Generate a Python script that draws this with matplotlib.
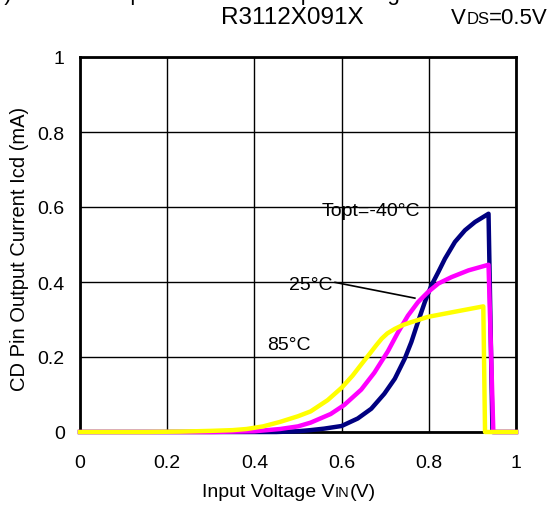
import matplotlib
matplotlib.use("Agg")
import matplotlib.pyplot as plt
from matplotlib.offsetbox import TextArea, HPacker, AnnotationBbox

plt.rcParams['font.family'] = ['Liberation Sans', 'DejaVu Sans']

# curves (VIN in V, Icd in mA)
v_m40 = [0.0, 0.45, 0.50, 0.529, 0.56, 0.60, 0.637, 0.668, 0.698, 0.722, 0.745, 0.76,
         0.775, 0.791, 0.806, 0.822, 0.837, 0.86, 0.883, 0.906, 0.937, 0.946, 1.0]
i_m40 = [0.0, 0.0, 0.002, 0.005, 0.009, 0.016, 0.036, 0.062, 0.102, 0.142, 0.196, 0.24,
         0.293, 0.347, 0.391, 0.427, 0.462, 0.507, 0.538, 0.56, 0.582, 0.0, 0.0]

v_25 = [0.0, 0.30, 0.40, 0.459, 0.50, 0.529, 0.575, 0.606, 0.645, 0.675, 0.706, 0.729,
        0.752, 0.775, 0.798, 0.822, 0.852, 0.891, 0.937, 0.948, 1.0]
i_25 = [0.0, 0.0, 0.002, 0.008, 0.015, 0.025, 0.048, 0.072, 0.113, 0.158, 0.215, 0.265,
        0.31, 0.346, 0.373, 0.396, 0.413, 0.431, 0.446, 0.0, 0.0]

v_85 = [0.0, 0.15, 0.229, 0.30, 0.35, 0.382, 0.42, 0.459, 0.50, 0.529, 0.568, 0.60,
        0.625, 0.645, 0.668, 0.68, 0.692, 0.705, 0.722, 0.74, 0.76, 0.798, 0.852,
        0.925, 0.929, 1.0]
i_85 = [0.0, 0.0, 0.001, 0.003, 0.005, 0.008, 0.015, 0.027, 0.042, 0.055, 0.085, 0.118,
        0.15, 0.18, 0.214, 0.232, 0.249, 0.263, 0.275, 0.285, 0.293, 0.307, 0.319,
        0.335, 0.0, 0.0]

ticks = [0, 0.2, 0.4, 0.6, 0.8, 1]
tick_labels = ['0', '0.2', '0.4', '0.6', '0.8', '1']

fig = plt.figure(figsize=(5.52, 5.06), dpi=100)
ax = fig.add_axes([80/552, 73/506, 436/552, 375/506])

ax.plot(v_m40, i_m40, color='#000080', lw=3.2, clip_on=False, zorder=3)
ax.plot(v_25, i_25, color='#FF00FF', lw=3.2, clip_on=False, zorder=4)
ax.plot(v_85, i_85, color='#FFFF00', lw=3.2, clip_on=False, zorder=5)

ax.set_xlim(0, 1)
ax.set_ylim(0, 1)
ax.set_xticks(ticks)
ax.set_yticks(ticks)
ax.set_xticklabels(tick_labels)
ax.set_yticklabels(tick_labels)
ax.tick_params(length=0, labelsize=14)
ax.tick_params(axis='x', pad=16)
ax.tick_params(axis='y', pad=11)
ax.grid(True, color='black', lw=1)
ax.set_axisbelow(True)
for s in ax.spines.values():
    s.set_linewidth(2)

ax.text(0.555, 0.59, 'Topt=-40°C', fontsize=14, va='center')
ax.text(0.48, 0.392, '25°C', fontsize=14, va='center')
ax.plot([0.585, 0.768], [0.399, 0.357], color='black', lw=1.2)
ax.text(0.429, 0.232, '85°C', fontsize=14, va='center')

fig.text(20/552, 257/506, 'CD Pin Output Current Icd (mA)', fontsize=14.5,
         rotation=90, ha='center', va='center')


def mixed(parts, xy, box_align):
    boxes = [TextArea(t, textprops=dict(fontsize=fs)) for t, fs in parts]
    pack = HPacker(children=boxes, align='baseline', pad=0, sep=0)
    ab = AnnotationBbox(pack, xy, xycoords='figure fraction', frameon=False,
                        box_alignment=box_align, pad=0)
    fig.add_artist(ab)


mixed([('Input Voltage V', 14), ('IN', 10.5), ('(V)', 14)], (289/552, 13/506), (0.5, 0.5))
mixed([('V', 16), ('DS', 12), ('=0.5V', 16)], (548/552, 488/506), (1.0, 0.5))
fig.text(292/552, 488/506, 'R3112X091X', fontsize=17.5, ha='center', va='center')
fig.text(-8/552, 1.0, '2) CD Pin Output Current vs. Input Voltage', fontsize=16,
         ha='left', va='baseline')

fig.savefig('out.png', dpi=100)
